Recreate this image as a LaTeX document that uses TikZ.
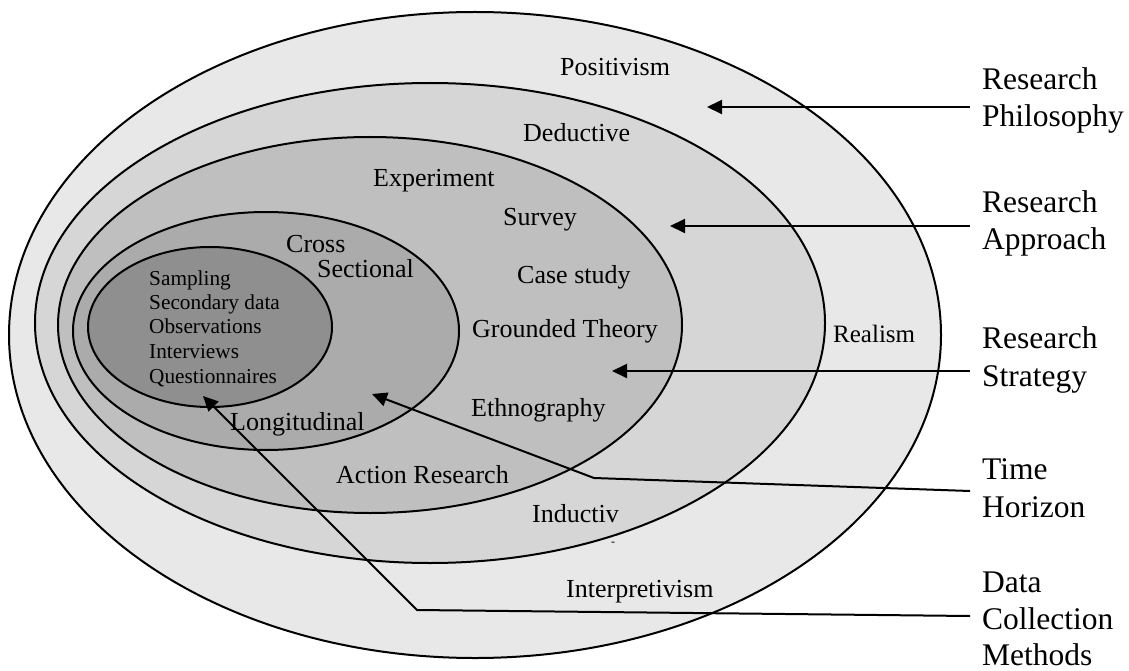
\documentclass[tikz,border=0pt]{standalone}
\usepackage{fontspec}
\setmainfont{Liberation Serif}
\usetikzlibrary{arrows.meta}
\definecolor{ringA}{gray}{0.91}
\definecolor{ringB}{gray}{0.84}
\definecolor{ringC}{gray}{0.75}
\definecolor{ringD}{gray}{0.67}
\definecolor{ringE}{gray}{0.56}
\begin{document}
\begin{tikzpicture}[x=1pt,y=-1pt,
  ring/.style={draw=black,line width=2pt},
  lbl/.style={font=\fontsize{26}{30}\selectfont,anchor=base west,inner sep=0pt},
  small/.style={font=\fontsize{21.3}{24}\selectfont,anchor=base west,inner sep=0pt},
  side/.style={font=\fontsize{31.5}{37.5}\selectfont,anchor=base west,inner sep=0pt},
  pointer/.style={line width=2pt,-{Triangle[length=15pt,width=14pt]}},
  plain/.style={line width=2pt}
]
\useasboundingbox (0,0) rectangle (1129,671);
\fill[white] (0,0) rectangle (1129,671);
% rings
\draw[ring,fill=ringA] (475,335) ellipse [x radius=466pt,y radius=323pt];
\draw[ring,fill=ringB] (430,323) ellipse [x radius=395pt,y radius=240pt];
\draw[ring,fill=ringC] (370,325) ellipse [x radius=312pt,y radius=188pt];
\draw[ring,fill=ringD] (266,331) ellipse [x radius=193pt,y radius=119pt];
\draw[ring,fill=ringE] (210,327) ellipse [x radius=122pt,y radius=80pt];
% ring labels
\node[lbl] (pos) at (560,76) {Positivism};
\node[lbl] (ded) at (523,142) {Deductive};
\node[lbl] (exp) at (373,187) {Experiment};
\node[lbl] (sur) at (503,225) {Survey};
\node[lbl] (cas) at (517,283) {Case study};
\node[lbl] (gro) at (472,337) {Grounded Theory};
\node[lbl,font=\fontsize{25}{30}\selectfont] (rea) at (833,342) {Realism};
\node[lbl] (eth) at (471,416) {Ethnography};
\node[lbl] (act) at (336,483) {Action Research};
\node[lbl] (ind) at (532,522) {Inductiv};
\node[lbl,font=\fontsize{12}{14}\selectfont] (dash) at (611,545) {-};
\node[lbl] (int) at (566,597) {Interpretivism};
\node[lbl] (cro) at (286,252) {Cross};
\node[lbl] (sec) at (317,277) {Sectional};
\node[lbl] (lon) at (230,430) {Longitudinal};
% data collection list
\node[small] (m1) at (149,285) {Sampling};
\node[small] (m2) at (149,309) {Secondary data};
\node[small] (m3) at (149,333) {Observations};
\node[small] (m4) at (149,358) {Interviews};
\node[small] (m5) at (149,383) {Questionnaires};
% side labels
\node[side] (rp1) at (982,90) {Research};
\node[side] (rp2) at (982,127) {Philosophy};
\node[side] (ra1) at (982,212) {Research};
\node[side] (ra2) at (982,249) {Approach};
\node[side] (rs1) at (982,348) {Research};
\node[side] (rs2) at (982,386) {Strategy};
\node[side] (th1) at (982,479) {Time};
\node[side] (th2) at (982,517) {Horizon};
\node[side] (dc1) at (982,592) {Data};
\node[side] (dc2) at (982,629) {Collection};
\node[side] (dc3) at (982,665) {Methods};
% connector ends
\coordinate (rpE) at (970,107);
\coordinate (rpT) at (707,107);
\coordinate (raE) at (970,226);
\coordinate (raT) at (670,226);
\coordinate (rsE) at (970,371);
\coordinate (rsT) at (612,371);
\coordinate (thE) at (970,491);
\coordinate (thB) at (594,478);
\coordinate (thT) at (372,394);
\coordinate (dcE) at (970,616);
\coordinate (dcB) at (417,610);
\coordinate (dcT) at (203,396);
\draw[pointer] (rpE) -- (rpT);
\draw[pointer] (raE) -- (raT);
\draw[pointer] (rsE) -- (rsT);
\draw[pointer] (thE) -- (thB) -- (thT);
\draw[pointer] (dcE) -- (dcB) -- (dcT);
\end{tikzpicture}
\end{document}
